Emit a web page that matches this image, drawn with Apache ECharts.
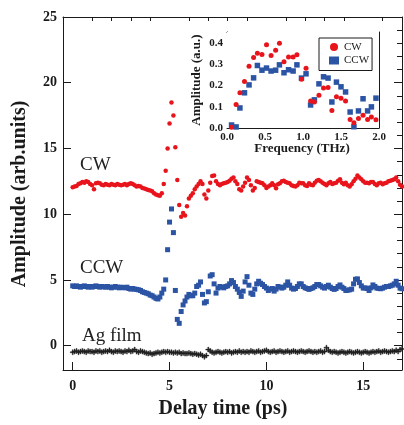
<!DOCTYPE html>
<html>
<head>
<meta charset="utf-8">
<script src="https://cdn.jsdelivr.net/npm/echarts@6/dist/echarts.min.js"></script>
<style>
	html, body { margin: 0; padding: 0; background: #fff; }
	#main { width: 404px; height: 425px; }
</style>
</head>
<body>
<div id="main"></div>
<script>
// delay time (ps)
var delay = [
	0.0, 0.1, 0.2, 0.3, 0.4, 0.5, 0.6, 0.7, 0.8, 0.9,
	1.0, 1.1, 1.2, 1.3, 1.4, 1.5, 1.6, 1.7, 1.8, 1.9,
	2.0, 2.1, 2.2, 2.3, 2.4, 2.5, 2.6, 2.7, 2.8, 2.9,
	3.0, 3.1, 3.2, 3.3, 3.4, 3.5, 3.6, 3.7, 3.8, 3.9,
	4.0, 4.1, 4.2, 4.3, 4.4, 4.5, 4.6, 4.7, 4.8, 4.9,
	5.0, 5.1, 5.2, 5.3, 5.4, 5.5, 5.6, 5.7, 5.8, 5.9,
	6.0, 6.1, 6.2, 6.3, 6.4, 6.5, 6.6, 6.7, 6.8, 6.9,
	7.0, 7.1, 7.2, 7.3, 7.4, 7.5, 7.6, 7.7, 7.8, 7.9,
	8.0, 8.1, 8.2, 8.3, 8.4, 8.5, 8.6, 8.7, 8.8, 8.9,
	9.0, 9.1, 9.2, 9.3, 9.4, 9.5, 9.6, 9.7, 9.8, 9.9,
	10.0, 10.1, 10.2, 10.3, 10.4, 10.5, 10.6, 10.7, 10.8, 10.9,
	11.0, 11.1, 11.2, 11.3, 11.4, 11.5, 11.6, 11.7, 11.8, 11.9,
	12.0, 12.1, 12.2, 12.3, 12.4, 12.5, 12.6, 12.7, 12.8, 12.9,
	13.0, 13.1, 13.2, 13.3, 13.4, 13.5, 13.6, 13.7, 13.8, 13.9,
	14.0, 14.1, 14.2, 14.3, 14.4, 14.5, 14.6, 14.7, 14.8, 14.9,
	15.0, 15.1, 15.2, 15.3, 15.4, 15.5, 15.6, 15.7, 15.8, 15.9,
	16.0, 16.1, 16.2, 16.3, 16.4, 16.5, 16.6, 16.7, 16.8, 16.9,
	17.0
];

var cwAmp = [
	12.05, 12.1, 12.15, 12.3, 12.35, 12.45, 12.4, 12.5, 12.45, 12.3,
	12.2, 11.9, 12.35, 12.4, 12.35, 12.25, 12.2, 12.3, 12.25, 12.2,
	12.3, 12.25, 12.2, 12.3, 12.25, 12.2, 12.25, 12.3, 12.2, 12.3,
	12.35, 12.3, 12.2, 12.1, 12.15, 12.1, 12.0, 11.95, 11.9, 11.85,
	11.8, 11.75, 11.6, 11.5, 11.45, 11.4, 11.6, 12.3, 13.3, 15.0,
	16.9, 18.5, 17.5, 15.1, 12.6, 10.7, 9.8, 10.1, 9.9, 10.6,
	11.2, 11.4, 11.6, 11.9, 12.1, 12.3, 12.5, 12.3, 11.5, 11.2,
	11.8, 12.4, 12.9, 12.95, 12.5, 12.3, 12.2, 12.3, 12.35, 12.4,
	12.45, 12.55, 12.7, 12.8, 12.5, 12.3, 11.9, 11.8, 12.1, 12.4,
	12.8, 12.6, 12.2, 11.8, 12.0, 12.5, 12.45, 12.4, 12.35, 12.2,
	12.0, 12.1, 12.2, 12.35, 12.2, 11.97, 12.28, 12.35, 12.5, 12.55,
	12.45, 12.4, 12.35, 12.2, 12.15, 12.1, 12.2, 12.4, 12.35, 12.35,
	12.2, 12.15, 12.35, 12.25, 12.2, 12.4, 12.55, 12.6, 12.5, 12.4,
	12.3, 12.2, 12.35, 12.45, 12.3, 12.35, 12.4, 12.55, 12.65, 12.4,
	12.28, 12.4, 12.2, 12.1, 12.28, 12.5, 12.7, 12.95, 12.8, 12.65,
	12.5, 12.4, 12.4, 12.35, 12.45, 12.45, 12.3, 12.2, 12.35, 12.4,
	12.28, 12.35, 12.4, 12.5, 12.55, 12.6, 12.65, 12.8, 12.5, 12.25,
	12.1
];

var ccwAmp = [
	4.55, 4.5, 4.55, 4.5, 4.45, 4.5, 4.55, 4.5, 4.45, 4.5,
	4.45, 4.5, 4.55, 4.5, 4.45, 4.5, 4.48, 4.45, 4.5, 4.45,
	4.4, 4.45, 4.5, 4.45, 4.4, 4.45, 4.42, 4.4, 4.45, 4.35,
	4.3, 4.35, 4.3, 4.28, 4.25, 4.2, 4.1, 4.05, 4.0, 3.95,
	3.85, 3.8, 3.7, 3.6, 3.55, 3.7, 4.0, 4.3, 5.0, 7.3,
	9.4, 10.4, 8.6, 4.2, 2.0, 1.7, 2.6, 3.1, 3.4, 3.7,
	3.9, 3.8, 3.8, 4.0, 4.5, 4.6, 4.85, 3.9, 3.25, 3.35,
	4.1, 5.3, 5.4, 4.7, 4.0, 4.38, 4.5, 4.45, 4.4, 4.5,
	4.55, 4.7, 4.95, 4.8, 4.5, 4.3, 4.05, 3.75, 4.15, 4.85,
	5.25, 4.6, 4.0, 3.9, 4.3, 4.7, 4.9, 4.75, 4.65, 4.5,
	4.38, 4.2, 4.3, 4.35, 4.15, 4.3, 4.5, 4.45, 4.38, 4.45,
	4.6, 4.85, 4.6, 4.38, 4.3, 4.35, 4.5, 4.7, 4.7, 4.5,
	4.4, 4.35, 4.28, 4.35, 4.4, 4.5, 4.65, 4.65, 4.55, 4.45,
	4.38, 4.5, 4.6, 4.45, 4.35, 4.28, 4.35, 4.5, 4.62, 4.45,
	4.35, 4.2, 4.22, 4.25, 4.3, 4.7, 5.05, 5.08, 4.8, 4.55,
	4.38, 4.4, 4.35, 4.2, 4.4, 4.62, 4.5, 4.38, 4.35, 4.33,
	4.38, 4.45, 4.5, 4.5, 4.55, 4.6, 4.7, 4.9, 4.6, 4.38,
	4.33
];

var agAmp = [
	-0.5, -0.45, -0.4, -0.5, -0.45, -0.4, -0.45, -0.5, -0.4, -0.45,
	-0.45, -0.5, -0.4, -0.45, -0.4, -0.5, -0.45, -0.4, -0.45, -0.35,
	-0.45, -0.5, -0.4, -0.45, -0.4, -0.45, -0.5, -0.4, -0.45, -0.35,
	-0.45, -0.4, -0.3, -0.45, -0.5, -0.4, -0.45, -0.5, -0.55, -0.6,
	-0.55, -0.65, -0.6, -0.55, -0.5, -0.55, -0.5, -0.45, -0.5, -0.45,
	-0.5, -0.5, -0.55, -0.5, -0.55, -0.5, -0.6, -0.55, -0.6, -0.6,
	-0.55, -0.6, -0.65, -0.6, -0.65, -0.7, -0.65, -0.75, -0.85, -0.75,
	-0.3, -0.4, -0.5, -0.55, -0.5, -0.45, -0.5, -0.55, -0.5, -0.45,
	-0.5, -0.45, -0.55, -0.5, -0.45, -0.5, -0.4, -0.5, -0.45, -0.5,
	-0.45, -0.5, -0.4, -0.45, -0.5, -0.45, -0.4, -0.5, -0.45, -0.4,
	-0.35, -0.45, -0.5, -0.45, -0.4, -0.5, -0.45, -0.4, -0.45, -0.5,
	-0.45, -0.4, -0.5, -0.45, -0.4, -0.45, -0.5, -0.45, -0.4, -0.45,
	-0.5, -0.45, -0.4, -0.45, -0.5, -0.45, -0.5, -0.45, -0.4, -0.5,
	-0.45, -0.15, -0.35, -0.45, -0.5, -0.45, -0.5, -0.55, -0.5, -0.45,
	-0.5, -0.55, -0.5, -0.45, -0.5, -0.55, -0.5, -0.45, -0.5, -0.55,
	-0.5, -0.45, -0.5, -0.55, -0.5, -0.45, -0.5, -0.45, -0.4, -0.5,
	-0.45, -0.4, -0.45, -0.5, -0.45, -0.4, -0.45, -0.35, -0.45, -0.3,
	-0.25
];

// inset spectrum
var freq = [
	0.06, 0.12, 0.17, 0.23, 0.29, 0.35, 0.40, 0.46, 0.52, 0.58,
	0.64, 0.69, 0.75, 0.81, 0.87, 0.92, 0.98, 1.04, 1.10, 1.15,
	1.21, 1.27, 1.33, 1.38, 1.44, 1.50, 1.56, 1.62, 1.67, 1.73,
	1.79, 1.85, 1.90, 1.96
];
var cwSpec = [
	0.003, 0.11, 0.165, 0.218, 0.29, 0.33, 0.35, 0.345, 0.39, 0.34,
	0.364, 0.397, 0.31, 0.333, 0.333, 0.343, 0.229, 0.28, 0.127, 0.122,
	0.154, 0.187, 0.19, 0.082, 0.147, 0.14, 0.126, 0.04, 0.025, 0.044,
	0.06, 0.04, 0.052, 0.039
];
var ccwSpec = [
	0.014, 0.005, 0.094, 0.165, 0.202, 0.235, 0.293, 0.271, 0.281, 0.267,
	0.271, 0.296, 0.259, 0.273, 0.267, 0.296, 0.234, 0.254, 0.108, 0.132,
	0.207, 0.24, 0.234, 0.122, 0.215, 0.193, 0.169, 0.075, 0.006, 0.08,
	0.137, 0.08, 0.099, 0.14
];

// tick positions
var xMajor = [0, 5, 10, 15];
var xMinor = [1, 2, 3, 4, 6, 7, 8, 9, 11, 12, 13, 14, 16];
var yMajor = [0, 5, 10, 15, 20, 25];
var yMinor = [-1, 1, 2, 3, 4, 6, 7, 8, 9, 11, 12, 13, 14, 16, 17, 18, 19, 21, 22, 23, 24];
var fMajor = [0, 0.5, 1, 1.5, 2];
var sMajor = [0, 0.1, 0.2, 0.3, 0.4];

var RED = '#e8141c';
var BLUE = '#2c54a4';
var INK = '#1a1a1a';
var SERIF = '"Liberation Serif", "DejaVu Serif", serif';

function pairs(xs, ys) {
	return xs.map(function(x, i) {
		return [x, ys[i]];
	});
}

var lineStyle = { color: INK, width: 1 };
var tickLabel = { color: INK, fontFamily: SERIF, fontWeight: 'bold' };

// value axis with frame line / ticks only where asked
function axis(o) {
	return {
		type: 'value',
		gridIndex: o.grid,
		min: o.min,
		max: o.max,
		position: o.position,
		axisLine: { show: !!o.line, onZero: false, lineStyle: lineStyle },
		axisTick: o.ticks ? { show: true, inside: true, length: o.len, customValues: o.ticks, lineStyle: lineStyle } : { show: false },
		axisLabel: o.labels ? Object.assign({ show: true, customValues: o.labels, fontSize: o.size, margin: o.margin, formatter: o.fmt }, tickLabel) : { show: false },
		splitLine: { show: false }
	};
}

function oneDecimal(v) {
	return v.toFixed(1);
}

var myChart = echarts.init(document.getElementById('main'));

var option = {
	animation: false,
	backgroundColor: '#fff',
	grid: [
		{ left: 63, right: 2, top: 17, bottom: 55 },
		{ left: 227, top: 32, width: 152, height: 96, show: true, backgroundColor: '#fff', borderWidth: 0, z: 5 }
	],
	legend: {
		data: ['CW', 'CCW'],
		orient: 'vertical',
		left: 319,
		top: 38,
		z: 20,
		padding: [3, 3, 4, 10],
		itemGap: 1.5,
		itemWidth: 10,
		itemHeight: 8,
		borderColor: INK,
		borderWidth: 1,
		backgroundColor: '#fff',
		textStyle: { fontFamily: SERIF, fontSize: 11, color: INK, lineHeight: 12 }
	},
	xAxis: [
		axis({ grid: 0, min: -0.5, max: 17, line: true, ticks: xMajor, len: 8, labels: xMajor, size: 14, margin: 9 }),
		axis({ grid: 0, min: -0.5, max: 17, ticks: xMinor, len: 4 }),
		axis({ grid: 0, min: -0.5, max: 17, position: 'top', line: true }),
		axis({ grid: 1, min: 0, max: 2, line: true, ticks: fMajor, len: 5, labels: fMajor, size: 11, margin: 4, fmt: oneDecimal }),
		axis({ grid: 1, min: 0, max: 2, position: 'top', line: true, ticks: fMajor, len: 5 })
	],
	yAxis: [
		axis({ grid: 0, min: -1.85, max: 25, line: true, ticks: yMajor, len: 8, labels: yMajor, size: 14, margin: 6 }),
		axis({ grid: 0, min: -1.85, max: 25, ticks: yMinor, len: 5 }),
		axis({ grid: 0, min: -1.85, max: 25, position: 'right', line: true, ticks: yMajor, len: 8 }),
		axis({ grid: 0, min: -1.85, max: 25, position: 'right', ticks: yMinor, len: 5 }),
		axis({ grid: 1, min: 0, max: 0.45, line: true, ticks: sMajor, len: 5, labels: sMajor, size: 11, margin: 4, fmt: oneDecimal }),
		axis({ grid: 1, min: 0, max: 0.45, position: 'right', line: true, ticks: sMajor, len: 5 })
	],
	series: [{
		name: 'Ag film',
		type: 'scatter',
		xAxisIndex: 0, yAxisIndex: 0,
		symbol: 'path://M0,4L10,4L10,6L0,6Z M4,0L6,0L6,10L4,10Z',
		symbolSize: 5,
		itemStyle: { color: '#222', borderColor: '#222', borderWidth: 0.4, opacity: 1 },
		data: pairs(delay, agAmp)
	}, {
		name: 'CCW trace',
		type: 'scatter',
		xAxisIndex: 0, yAxisIndex: 0,
		symbol: 'rect',
		symbolSize: 5,
		itemStyle: { color: BLUE, opacity: 1 },
		data: pairs(delay, ccwAmp)
	}, {
		name: 'CW trace',
		type: 'scatter',
		xAxisIndex: 0, yAxisIndex: 0,
		symbol: 'circle',
		symbolSize: 4.5,
		itemStyle: { color: RED, opacity: 1 },
		data: pairs(delay, cwAmp)
	}, {
		name: 'CW',
		type: 'scatter',
		xAxisIndex: 3, yAxisIndex: 4,
		symbol: 'circle',
		symbolSize: 5,
		z: 10,
		clip: false,
		itemStyle: { color: RED, opacity: 1 },
		data: pairs(freq, cwSpec)
	}, {
		name: 'CCW',
		type: 'scatter',
		xAxisIndex: 3, yAxisIndex: 4,
		symbol: 'rect',
		symbolSize: 5.5,
		z: 9,
		clip: false,
		itemStyle: { color: BLUE, opacity: 1 },
		data: pairs(freq, ccwSpec)
	}],
	graphic: [
		{ type: 'text', x: 80, y: 165, style: { text: 'CW', font: '19px ' + SERIF, fill: '#222', align: 'left', verticalAlign: 'middle' } },
		{ type: 'text', x: 80, y: 268, style: { text: 'CCW', font: '19px ' + SERIF, fill: '#222', align: 'left', verticalAlign: 'middle' } },
		{ type: 'text', x: 82, y: 336, style: { text: 'Ag film', font: '19px ' + SERIF, fill: '#222', align: 'left', verticalAlign: 'middle' } },
		{ type: 'text', x: 223, y: 409, style: { text: 'Delay time (ps)', font: 'bold 20px ' + SERIF, fill: INK, align: 'center', verticalAlign: 'middle' } },
		{ type: 'text', x: 20, y: 194, rotation: Math.PI / 2, style: { text: 'Amplitude (arb.units)', font: 'bold 20px ' + SERIF, fill: INK, align: 'center', verticalAlign: 'middle' } },
		{ type: 'text', x: 302, y: 149, style: { text: 'Frequency (THz)', font: 'bold 13px ' + SERIF, fill: INK, align: 'center', verticalAlign: 'middle' } },
		{ type: 'text', x: 197, y: 80, rotation: Math.PI / 2, style: { text: 'Amplitude (a.u.)', font: 'bold 13px ' + SERIF, fill: INK, align: 'center', verticalAlign: 'middle' } }
	]
};

myChart.setOption(option);
</script>
</body>
</html>
